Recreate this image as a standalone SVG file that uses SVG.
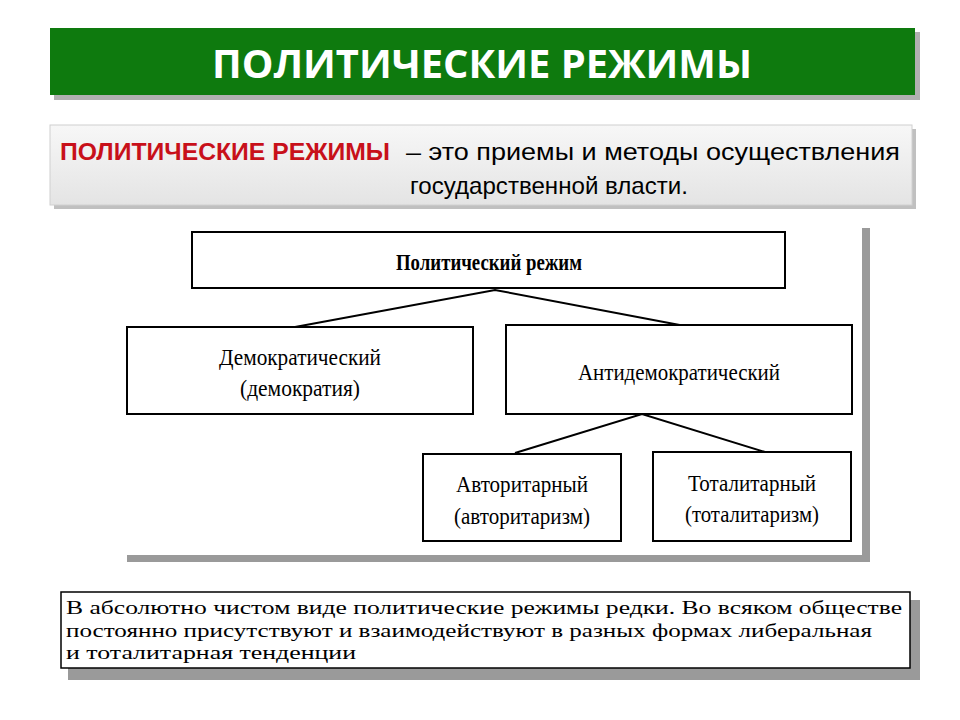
<svg xmlns="http://www.w3.org/2000/svg" width="960" height="720" viewBox="0 0 960 720">
<defs>
<linearGradient id="g" x1="0" y1="0" x2="0" y2="1"><stop offset="0" stop-color="#f7f7f7"/><stop offset="1" stop-color="#e4e4e4"/></linearGradient>
</defs>
<style>
.box{fill:#fff;stroke:#000;stroke-width:2}
.t{font-family:"Liberation Serif",serif;font-size:24px;text-anchor:middle;fill:#000}
.sh{fill:#9a9a9a}
.c{stroke:#000;stroke-width:2;fill:none}
</style>
<rect width="960" height="720" fill="#fff"/>
<g id="title">
<rect x="54" y="32" width="866" height="68" fill="#b0b0b0"/>
<rect x="50" y="28" width="865" height="67" fill="#0e7a0e"/>
<text x="482" y="78" font-family="Open Sans,Liberation Sans,sans-serif" font-weight="bold" font-size="40" fill="#fff" text-anchor="middle" textLength="540" lengthAdjust="spacingAndGlyphs">ПОЛИТИЧЕСКИЕ РЕЖИМЫ</text>
</g>
<g id="definition">
<rect x="54" y="129" width="862" height="80" fill="#c0c0c0"/>
<rect x="50" y="125" width="862" height="80" fill="url(#g)" stroke="#d0d0d0"/>
<text font-family="Liberation Sans,sans-serif" font-size="24" y="160" x="60"><tspan fill="#c8101a" font-weight="bold" textLength="330" lengthAdjust="spacingAndGlyphs">ПОЛИТИЧЕСКИЕ РЕЖИМЫ</tspan><tspan x="406" textLength="494" lengthAdjust="spacingAndGlyphs">– это приемы и методы осуществления</tspan></text>
<text font-family="Liberation Sans,sans-serif" font-size="24" x="410" y="194" textLength="278" lengthAdjust="spacingAndGlyphs">государственной власти.</text>
</g>
<g id="panel">
<rect x="862" y="228" width="8" height="334" class="sh"/>
<rect x="127" y="555" width="743" height="7" class="sh"/>
</g>
<g id="connectors">
<polyline class="c" points="295,327 495,290 685,326"/>
<polyline class="c" points="515,453 642,414 765,452"/>
</g>
<g id="n-root"><rect class="box" x="192" y="232" width="593" height="56"/><text class="t" x="489" y="270" font-weight="bold" textLength="186" lengthAdjust="spacingAndGlyphs">Политический режим</text></g>
<g id="n-demo"><rect class="box" x="127" y="327" width="346" height="87"/><text class="t" x="300" y="365" textLength="162" lengthAdjust="spacingAndGlyphs">Демократический</text><text class="t" x="300" y="396" textLength="120" lengthAdjust="spacingAndGlyphs">(демократия)</text></g>
<g id="n-anti"><rect class="box" x="506" y="325" width="346" height="89"/><text class="t" x="679" y="380" textLength="202" lengthAdjust="spacingAndGlyphs">Антидемократический</text></g>
<g id="n-avt"><rect class="box" x="423" y="454" width="198" height="87"/><text class="t" x="522" y="492" textLength="132" lengthAdjust="spacingAndGlyphs">Авторитарный</text><text class="t" x="522" y="524" textLength="136" lengthAdjust="spacingAndGlyphs">(авторитаризм)</text></g>
<g id="n-tot"><rect class="box" x="653" y="452" width="198" height="89"/><text class="t" x="752" y="491" textLength="128" lengthAdjust="spacingAndGlyphs">Тоталитарный</text><text class="t" x="752" y="522" textLength="134" lengthAdjust="spacingAndGlyphs">(тоталитаризм)</text></g>
<g id="note">
<rect x="68" y="600" width="852" height="80" class="sh"/>
<rect x="61" y="592" width="849" height="76" fill="#fff" stroke="#000" stroke-width="1.5"/>
<text font-family="Liberation Serif,serif" font-size="19" x="66"><tspan x="66" y="614" textLength="836" lengthAdjust="spacingAndGlyphs">В абсолютно чистом виде политические режимы редки. Во всяком обществе</tspan><tspan x="66" y="637" textLength="806" lengthAdjust="spacingAndGlyphs">постоянно присутствуют и взаимодействуют в разных формах либеральная</tspan><tspan x="66" y="659" textLength="290" lengthAdjust="spacingAndGlyphs">и тоталитарная тенденции</tspan></text>
</g>
</svg>
